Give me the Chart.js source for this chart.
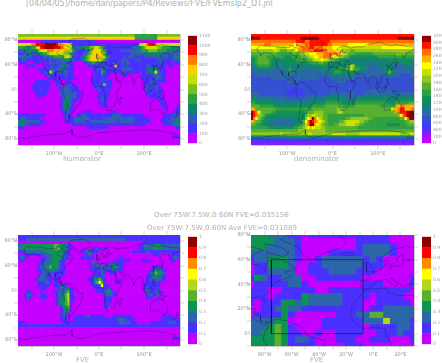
<!DOCTYPE html>
<html>
<head>
<meta charset="utf-8">
<script src="https://cdn.jsdelivr.net/npm/chart.js@4/dist/chart.umd.min.js"></script>
<style>
html, body { margin: 0; padding: 0; background: #fff; overflow: hidden; }
canvas { position: absolute; }
.t { position: absolute; white-space: nowrap; color: #b0b0b0; font-family: "DejaVu Sans", sans-serif; line-height: 10px; }
</style>
</head>
<body>
<canvas id="c1" width="184" height="133" style="left:0;top:30px"></canvas>
<canvas id="b1" width="27" height="117" style="left:188px;top:31px"></canvas>
<canvas id="c2" width="185" height="133" style="left:233px;top:30px"></canvas>
<canvas id="b2" width="27" height="117" style="left:422px;top:31px"></canvas>
<canvas id="c3" width="184" height="132" style="left:0;top:231px"></canvas>
<canvas id="b3" width="27" height="117" style="left:188px;top:232px"></canvas>
<canvas id="c4" width="185" height="132" style="left:233px;top:231px"></canvas>
<canvas id="b4" width="27" height="117" style="left:422px;top:232px"></canvas>
<div class="t" style="left:26px;top:-1px;font-size:8px;letter-spacing:-0.05px">[04/04/05]/home/dan/papers/P4/Reviews/FVE/FVEmslp2_DT.jnl</div>
<div class="t" style="left:154px;top:210px;font-size:7px;letter-spacing:0.06px">Over 75W:7.5W,0:60N FVE=0.035156</div>
<div class="t" style="left:147px;top:223px;font-size:7px;letter-spacing:0.06px">Over 75W:7.5W,0:60N Ave FVE=0.031089</div>
<div class="t" style="left:63px;top:154px;font-size:7px">Numerator</div>
<div class="t" style="left:294px;top:154px;font-size:7px">denominator</div>
<div class="t" style="left:76px;top:355px;font-size:7px">FVE</div>
<div class="t" style="left:310px;top:355px;font-size:7px">FVE</div>
<script>
// one char per 5 degree cell, colour level in hex, rows from 90N down, 6 cells per group
const numeratorRows = [
'555555 555555 555555 555555 555555 555555 555555 555555 555544 444444 445555 555555',
'666677 777777 777777 777777 777777 777777 777777 777777 777744 444444 447777 777777',
'000000 000011 111111 111111 111111 111110 000000 000000 000000 000000 000000 000000',
'766677 889999 aaaaa9 887766 211111 111111 111111 111111 111111 667899 987666 666666',
'444433 446799 aaaa99 987766 322233 445566 542111 111111 111222 345666 665544 443333',
'222333 333567 788877 777766 432111 225677 654211 111122 222233 344455 554444 333322',
'111223 222334 456666 666554 311112 245677 765311 111111 112222 222333 333322 222222',
'233222 111112 223344 445665 311123 456777 776421 111112 122211 112222 222222 222233',
'112211 111112 112122 223332 211123 456776 654311 111122 211122 211111 112221 111222',
'011100 011110 112212 122211 100001 123443 211111 212121 221111 111111 112211 110111',
'000011 110000 111211 223321 100000 011111 112211 171121 211111 111221 211111 011000',
'000000 000111 112222 232111 100000 000112 223111 111122 222111 111223 332111 000000',
'000000 000011 226411 223311 100000 000011 143111 111112 111111 011223 472111 000000',
'000000 000000 122111 111211 100000 000011 121110 000011 100000 011112 222211 000000',
'000000 000000 011110 111111 110000 000111 111100 000000 000000 011111 122211 000000',
'000000 001111 110011 100111 000000 000111 121111 000000 000000 001112 211111 000000',
'000000 011111 111001 100112 110000 000111 115211 000000 000000 000112 111000 000000',
'000000 111111 110000 112221 111000 000012 111111 000000 000000 001212 121100 000000',
'000000 011111 110000 122222 111000 000001 211110 000000 000000 000211 112110 000001',
'000000 001111 100000 022222 221100 000000 111110 000000 000000 000111 111100 000000',
'000000 000110 000000 012322 221100 000001 121110 000000 000000 000011 111100 000000',
'000000 000000 000000 012332 111000 000000 121100 000000 000000 000000 001110 000000',
'000000 000000 000000 013332 110000 000000 111100 000000 000000 000000 000111 000000',
'000000 000000 000000 013332 100000 000000 011100 000000 000000 000000 000011 000001',
'000000 000000 000000 012321 100000 000000 000000 000000 000000 000000 000001 000011',
'000000 000000 000000 001221 000001 111000 000001 110000 000000 000000 000000 000111',
'111111 111111 000000 001211 001122 211111 111111 222211 111111 110000 000001 111222',
'122211 111100 000000 000211 122222 221111 112222 222222 222211 111110 000011 112222',
'333222 222211 000000 000111 122222 112222 222222 221222 222211 111110 000011 122233',
'333221 111110 000000 000000 111111 111111 111111 111111 111111 111000 000001 112233',
'111000 000000 000000 000000 000000 011111 111100 000000 000000 000000 000000 000011',
'000000 000000 000000 000000 000000 000000 000000 000000 000000 000000 000000 000000',
'000000 000000 000000 000000 000000 000000 000000 000000 000000 000000 000000 000000',
'000000 000000 000000 000000 000000 000000 000000 000000 000000 000000 000000 000111',
'000000 000000 000000 000000 000000 000000 000000 000000 000000 000000 000000 000000',
'000000 000000 000000 000000 000000 000000 000000 000000 000000 000000 000000 000000',
];
const denominatorRows = [
'eeeeee eeeeee eeeeee eeeeee eeeeee eeeeee eeeeee eeeeee eeeeee eeeeee eeeeee eeeeee',
'ffffee eeeeee eeeeee eeeeff ffffff eeeeee eeeeee eeeeee eeeeee eeeeee eeeeef ffffff',
'dddddd dddddd dddddd ddeeee ddeeee eeeeed dddddd dddddd dddddd dddddd dddddd dddddd',
'cccccc dddccc cccccc cbcccc ddeeee eeeedd cccccc cbbbbb bbbbcc cccccc cccccc cccccc',
'bbbbbb bbbbba aaaabb bbbcdd ddeedd ddcccc bbbbaa aaaaaa aaaaaa aaaabb bbbbbb bbbbbb',
'999999 9999aa 988899 9abccd ddddee eeddcc cbaa99 998899 999999 999999 999999 999999',
'888888 888888 777777 888899 aabbbc ccdddd ddccba 988877 777777 888888 888899 998888',
'777888 877777 777666 777788 99aabb ccdddc bba998 876666 666666 667777 777777 777777',
'667888 887666 566666 667777 7889aa abaa99 877665 555555 555555 555555 666666 666666',
'667888 887655 555566 666666 667777 887766 655566 666555 555555 555555 555555 566666',
'556777 776555 555555 555555 555555 666655 556666 77a966 555544 445555 554444 445555',
'445555 555544 445567 555555 445555 555555 667766 88a877 665544 444455 666544 444444',
'444444 444444 444556 554444 444444 445555 677766 666655 444444 444445 785444 444444',
'334444 444444 444444 444444 444444 444444 555555 555544 444444 444444 555444 333344',
'333333 333344 444444 444444 444444 333334 444444 444433 333333 333333 333333 333333',
'333333 333333 333344 444333 333333 333333 344444 333333 333333 333333 333333 333333',
'333333 333333 333333 333333 333333 333333 333333 333333 333333 333333 333333 333333',
'333333 333333 333333 323333 333333 333333 333333 333333 333333 333333 333333 333333',
'333333 333333 333322 222223 333333 333333 333333 333333 333344 444444 443333 333333',
'444433 333333 333322 232223 333333 333334 444444 444433 334444 444444 444444 444444',
'554444 444444 444433 333333 444444 444455 555555 444444 555555 555555 555555 555555',
'665555 555544 444444 444444 445555 555666 666655 555566 666666 666666 555566 666666',
'776666 666655 555555 555555 555666 666777 777766 666677 777777 777777 666677 777788',
'888877 777766 666666 666666 666777 777888 888877 777788 888888 888777 7777cc ddcccc',
'cc8888 888887 777777 777777 777888 888888 889988 888888 888888 888888 88bccd eecccd',
'fedb98 888776 666666 666666 788899 998888 889a98 888888 888888 888888 8889cd eeefff',
'fed998 766666 666666 666666 899aa9 998877 777777 777777 778888 888888 888889 bdefff',
'fdb987 665555 555555 555566 9bcfdb a98877 777777 889999 999988 777777 777777 88bdff',
'c98876 655554 444444 555578 bdfedc ba9877 777889 aaaaaa 998877 777777 777777 778899',
'887766 554444 444444 455678 adffcb a98877 788999 aaaa99 887777 777777 666666 777888',
'777777 776666 666666 677889 abcbaa a99888 888888 888887 777777 777777 777777 777777',
'888888 888888 888888 888999 999999 999888 888888 888888 888888 888888 888888 888888',
'999999 999999 9a9999 999999 9aa999 999999 aaaaaa 999999 aaaaaa aaaaaa aaaaaa 999aaa',
'555555 555555 555566 666666 666655 555555 555555 666655 555555 555555 555555 555555',
'222222 222222 222222 222222 222222 222222 222222 222222 222222 222222 222222 222222',
'111111 111111 111111 111111 111111 111111 111111 111111 111111 111111 111111 111111',
];
const fveRows = [
'111111 111111 111111 111111 111111 111111 111111 111111 111111 111111 111111 111111',
'111122 222222 222222 222222 222222 222222 222222 222222 111111 111111 111111 111111',
'000000 000000 000000 000000 000000 000000 000000 000000 000000 001111 111111 111111',
'223333 333333 333344 333211 000000 000000 000000 000000 000000 112222 333322 222222',
'333333 333333 333344 433211 000000 000112 111100 000000 000000 112222 333322 222222',
'111222 222222 333333 332210 000011 222111 000000 000000 000111 111211 111111 111111',
'000111 111112 222333 332110 000000 122100 000000 000000 000000 000000 111000 001111',
'122100 000001 122333 332110 000011 111100 000000 000110 000000 000000 000000 001221',
'011000 000011 222333 211000 000000 010000 000000 011111 110000 011110 000000 001100',
'000000 000112 223333 211000 000000 001222 010012 221110 000000 000000 000000 000000',
'000000 000122 334333 211000 000000 000122 222122 332110 000000 000000 111100 000000',
'000000 000112 223322 111000 000000 001111 122111 221110 000000 000001 233311 000000',
'000000 000012 221211 111000 000000 000011 121001 110000 000000 000012 343322 000000',
'000000 000122 111011 110000 000000 000111 112000 000000 000000 000112 232211 000000',
'000000 001222 211011 000000 000000 011133 421000 000100 000000 000112 222211 000000',
'000000 000111 221011 100000 000000 001134 641000 011000 000000 000111 111100 000000',
'000000 000111 110011 122100 000000 000111 261110 000000 000000 001111 111000 000000',
'000000 000011 100000 122221 100000 000011 111121 000000 000000 001211 111000 000000',
'000011 000010 000011 222341 100000 000001 112232 100000 000000 000221 122100 000000',
'000122 100011 100001 223451 100000 000000 001222 110000 000000 000122 112100 000000',
'000121 000011 100001 223451 110000 000000 001111 000000 000000 000111 000000 000000',
'000000 000000 000001 233451 100000 000000 001111 000000 000000 000000 001000 000000',
'000000 000000 000001 233451 000000 000000 001110 000000 000000 000000 000000 000000',
'000000 000000 000000 013341 000000 000000 001120 000000 000000 000000 000000 000000',
'000000 000000 000000 012331 000000 000000 000000 000000 000000 000000 000000 000000',
'000000 000000 000000 012210 000000 000000 000000 000000 000000 000000 000000 000000',
'000000 000000 000000 012100 011111 221111 111000 111111 111000 000000 000011 111000',
'000000 000000 000000 011100 011111 111111 111111 112222 111100 000000 000011 111111',
'111000 000000 000000 001111 111111 111111 111111 111222 221110 000001 111111 122211',
'111111 111111 111111 111111 111111 111111 111111 111111 111111 111111 111111 111111',
'000000 000000 000000 000000 000000 000000 000000 000000 000000 000000 000000 000000',
'000000 000000 000000 000000 000000 000000 000000 000000 000000 000000 000000 000000',
'000000 000000 000000 000000 000000 000000 000000 000000 000000 000000 000000 000000',
'000000 000000 000000 000000 000000 000000 000000 000000 000000 000000 000000 000111',
'000000 000000 000000 000000 000000 000000 000000 000000 000000 000000 000000 000000',
'000000 000000 000000 000000 000000 000000 000000 000000 000000 000000 000000 000000',
];
// atlantic close up, cells centred on multiples of 5 degrees, 80N down to 10S, 90W to 30E
const atlanticRows = [
'3332221101111111111110000',
'3333222100000000111110000',
'3332222100000000122221000',
'2222222100001111122221000',
'1223332100122222212100000',
'0113332001122222211100000',
'0112222001112222111000000',
'1321122200111111100000001',
'0111112210000000011100001',
'1110011111001111111111110',
'1110111132222211110111100',
'1011133232222211100111110',
'0011232211111111101122222',
'0111131000000111224422222',
'2222330000011111122252221',
'2223431000011111101111221',
'2233431100100111100111211',
'3333431221000111001110001',
'3333431111000011100000000',
];

const globalLons = [-177.5, -172.5, -167.5, -162.5, -157.5, -152.5, -147.5, -142.5, -137.5, -132.5, -127.5, -122.5,
  -117.5, -112.5, -107.5, -102.5, -97.5, -92.5, -87.5, -82.5, -77.5, -72.5, -67.5, -62.5,
  -57.5, -52.5, -47.5, -42.5, -37.5, -32.5, -27.5, -22.5, -17.5, -12.5, -7.5, -2.5,
  2.5, 7.5, 12.5, 17.5, 22.5, 27.5, 32.5, 37.5, 42.5, 47.5, 52.5, 57.5,
  62.5, 67.5, 72.5, 77.5, 82.5, 87.5, 92.5, 97.5, 102.5, 107.5, 112.5, 117.5,
  122.5, 127.5, 132.5, 137.5, 142.5, 147.5, 152.5, 157.5, 162.5, 167.5, 172.5, 177.5];
const globalLats = [87.5, 82.5, 77.5, 72.5, 67.5, 62.5, 57.5, 52.5, 47.5, 42.5, 37.5, 32.5,
  27.5, 22.5, 17.5, 12.5, 7.5, 2.5, -2.5, -7.5, -12.5, -17.5, -22.5, -27.5,
  -32.5, -37.5, -42.5, -47.5, -52.5, -57.5, -62.5, -67.5, -72.5, -77.5, -82.5, -87.5];
const atlanticLons = [-90, -85, -80, -75, -70, -65, -60, -55, -50, -45, -40, -35, -30, -25, -20, -15, -10, -5, 0, 5, 10, 15, 20, 25, 30];
const atlanticLats = [80, 75, 70, 65, 60, 55, 50, 45, 40, 35, 30, 25, 20, 15, 10, 5, 0, -5, -10];

const numeratorLevels = [0, 100, 200, 300, 400, 500, 600, 700, 800, 900, 1000, 1100];
const denominatorLevels = [0, 200, 400, 600, 800, 1000, 1200, 1400, 1600, 1800, 2000, 2200, 2400, 2600, 2800, 3000, 3200];
const fveLevels = [0, 0.1, 0.2, 0.3, 0.4, 0.5, 0.6, 0.7, 0.8, 0.9, 1];

const numeratorColors = ['#c400ff', '#4a30ff', '#2d5fb4', '#0f8468', '#2ea040', '#78c020', '#c8e000', '#ffd000', '#ff7a00', '#ff0000', '#900000'];
const denominatorColors = ['#c400ff', '#7a20ff', '#4038f8', '#3450d0', '#2a68a8', '#158078', '#109058', '#30a040', '#58b030', '#90c820', '#c8e000', '#ffff00', '#ffb000', '#ff7000', '#ff1000', '#900000'];
const fveColors = ['#c400ff', '#4a30ff', '#2a66a8', '#0c9450', '#58b030', '#b4d818', '#ffff00', '#ff8c00', '#ff0000', '#900000'];

const boxLine = [[-75, 0], [-7.5, 0], [-7.5, 60], [-75, 60], [-75, 0]];
const northAmerica = [[-165,65],[-168,66],[-162,70],[-156,71],[-140,70],[-128,70],[-115,68],[-95,68],[-94,72],[-85,69],[-81,68],[-88,64],[-94,60],[-92,57],[-82,55],[-80,51],[-79,55],[-77,60],[-78,62],[-70,61],[-65,59],[-60,55],[-56,52],[-65,50],[-60,46],[-66,44],[-70,43],[-74,40],[-76,35],[-81,31],[-80,26],[-82,28],[-84,30],[-90,29],[-97,28],[-97,22],[-95,18],[-91,19],[-87,21],[-88,16],[-83,15],[-83,10],[-78,9],[-80,7],[-85,10],[-91,14],[-96,16],[-105,20],[-109,25],[-113,31],[-110,23],[-115,30],[-120,34],[-124,40],[-124,48],[-130,54],[-135,58],[-145,60],[-152,59],[-160,55],[-158,58],[-165,61],[-165,65]];
const southAmerica = [[-78,9],[-72,12],[-62,10],[-52,5],[-50,0],[-44,-3],[-35,-6],[-39,-15],[-41,-22],[-48,-26],[-53,-33],[-58,-38],[-65,-41],[-66,-47],[-69,-52],[-68,-55],[-74,-52],[-74,-42],[-71,-30],[-70,-18],[-76,-14],[-81,-5],[-80,1],[-77,6],[-78,9]];
const africa = [[-6,36],[10,37],[11,33],[20,31],[32,31],[35,28],[39,17],[43,12],[51,12],[47,3],[40,-3],[39,-10],[40,-16],[35,-24],[32,-29],[26,-34],[18,-34],[15,-26],[12,-17],[13,-8],[9,0],[9,4],[0,5],[-8,4],[-15,11],[-17,15],[-16,22],[-10,30],[-6,36]];
const eurasia = [[-9,37],[-9,43],[-1,44],[-4,48],[3,51],[8,54],[9,57],[12,54],[20,55],[24,59],[30,60],[22,60],[22,65],[17,61],[18,59],[13,55],[11,59],[5,59],[6,62],[14,68],[25,71],[40,67],[44,68],[55,69],[68,69],[73,72],[85,74],[105,77],[115,74],[130,71],[140,73],[160,70],[178,69],[180,68],[178,63],[165,60],[162,55],[156,51],[156,58],[142,59],[135,54],[141,50],[132,43],[128,38],[126,35],[125,39],[118,39],[122,37],[120,33],[122,30],[118,24],[110,21],[106,19],[109,12],[105,9],[100,13],[103,2],[98,9],[97,16],[92,22],[87,21],[80,15],[78,8],[73,18],[72,21],[67,25],[57,26],[51,28],[48,30],[52,24],[56,25],[59,22],[52,16],[43,13],[39,21],[35,28],[35,33],[36,36],[27,37],[27,40],[41,41],[37,45],[31,46],[28,42],[26,40],[23,38],[20,40],[13,45],[18,40],[16,38],[10,44],[3,43],[0,39],[-5,36],[-9,37]];
const greenland = [[-45,60],[-52,64],[-55,70],[-68,76],[-60,82],[-30,83],[-20,76],[-22,70],[-35,66],[-45,60]];
const australia = [[114,-22],[122,-18],[130,-12],[136,-12],[140,-17],[143,-11],[146,-19],[153,-27],[150,-37],[143,-39],[138,-35],[130,-32],[124,-33],[115,-34],[114,-22]];
const antarctica = [[-180,-78],[-160,-80],[-150,-77],[-120,-74],[-100,-73],[-75,-72],[-60,-65],[-60,-73],[-45,-78],[-20,-75],[0,-70],[30,-69],[60,-67],[90,-66],[120,-66],[150,-69],[170,-72],[165,-78],[180,-78]];
const britain = [[-5,50],[1,51],[-2,56],[-5,58],[-5,50]];
const japan = [[130,32],[136,34],[141,36],[141,41],[145,44],[141,45],[139,38],[131,34],[130,32]];
const madagascar = [[49,-12],[50,-16],[47,-25],[44,-23],[44,-17],[49,-12]];
const sumatra = [[95,5],[104,-3],[106,-6],[100,-2],[95,5]];
const borneo = [[109,1],[117,7],[118,1],[114,-4],[110,-2],[109,1]];
const newGuinea = [[131,-1],[141,-3],[148,-8],[150,-10],[141,-9],[138,-8],[131,-1]];
const iceland = [[-24,65],[-15,66],[-14,64],[-22,63],[-24,65]];
const baffin = [[-80,73],[-68,70],[-62,66],[-66,62],[-78,66],[-80,73]];
const newZealand = [[173,-35],[178,-38],[175,-41],[172,-44],[167,-46],[172,-41],[173,-35]];
const philippines = [[120,18],[122,17],[125,8],[122,8],[120,14],[120,18]];
const coasts = [northAmerica, southAmerica, africa, eurasia, greenland, australia, antarctica, britain, japan, madagascar, sumatra, borneo, newGuinea, iceland, baffin, newZealand, philippines];

const GREY = '#969696';
const TICK = '#b8b8b8';
const tickFont = { family: "'DejaVu Sans', sans-serif", size: 5 };

function lonLabel(v) {
    return v === 0 ? '0°E' : Math.abs(v) + (v < 0 ? '°W' : '°E');
}
function latLabel(v) {
    return v === 0 ? '0°' : Math.abs(v) + (v < 0 ? '°S' : '°N');
}
function fixTicks(list) {
    return (scale) => { scale.ticks = list.map((v) => ({ value: v })); };
}
function axis(position, min, max, list, extra) {
    return Object.assign({
        type: 'linear',
        position: position,
        min: min,
        max: max,
        offset: false,
        afterBuildTicks: fixTicks(list),
        // lineWidth 0 or the bars that start at 0 get a half pixel gap
        grid: { drawOnChartArea: false, offset: false, lineWidth: 0, tickLength: 4, tickColor: TICK, tickWidth: 0.6 },
        border: { display: true, color: GREY, width: 0.5 },
        ticks: { display: false, autoSkip: false, maxRotation: 0, font: tickFont },
    }, extra);
}

function drawMap(id, o) {
    const cells = [];
    const colors = [];
    o.rows.forEach((row, r) => {
        const chars = row.replace(/ /g, '');
        o.lons.forEach((lon, c) => {
            cells.push({ x: lon, y: [o.lats[r] - o.dLat / 2, o.lats[r] + o.dLat / 2] });
            colors.push(o.palette[parseInt(chars[c], 16)]);
        });
    });
    const lineSet = (pts, width, color) => ({
        type: 'line',
        data: pts.map((p) => ({ x: p[0], y: p[1] })),
        borderColor: color,
        borderWidth: width,
        pointRadius: 0,
        tension: 0,
        order: 0,
    });
    const datasets = [{ type: 'bar', data: cells, backgroundColor: colors, borderWidth: 0, order: 1 }];
    coasts.forEach((c) => datasets.push(lineSet(c, 0.5, 'rgba(25,10,70,0.6)')));
    if (o.box) {
        datasets.push(lineSet(o.box, 0.7, 'rgba(15,15,50,0.85)'));
    }
    new Chart(document.getElementById(id), {
        data: { datasets: datasets },
        options: {
            responsive: false,
            animation: false,
            events: [],
            layout: { padding: 0, autoPadding: false },
            barPercentage: 1,
            categoryPercentage: 1,
            plugins: { legend: { display: false }, tooltip: { enabled: false } },
            scales: {
                x: axis('bottom', o.xMin, o.xMax, o.xTicks, {
                    afterFit: (s) => { s.height = o.bottom; },
                    ticks: {
                        autoSkip: false, maxRotation: 0, minRotation: 0, font: tickFont, color: GREY, padding: 1.5,
                        callback: (v) => (o.xLabels.includes(v) ? lonLabel(v) : ''),
                    },
                }),
                y: axis('left', o.yMin, o.yMax, o.yTicks, {
                    afterFit: (s) => { s.width = 18; },
                    ticks: {
                        autoSkip: false, font: tickFont, color: GREY, padding: -3,
                        callback: (v) => (o.yLabels.includes(v) ? latLabel(v) : ''),
                    },
                }),
                xTop: axis('top', o.xMin, o.xMax, o.xTicks, { afterFit: (s) => { s.height = 4; } }),
                yRight: axis('right', o.yMin, o.yMax, o.yTicks, { afterFit: (s) => { s.width = 4; } }),
            },
        },
    });
}

function drawBar(id, levels, palette) {
    new Chart(document.getElementById(id), {
        type: 'bar',
        data: {
            labels: [''],
            datasets: palette.map((c, i) => ({ data: [[levels[i], levels[i + 1]]], backgroundColor: c, borderWidth: 0 })),
        },
        options: {
            responsive: false,
            animation: false,
            events: [],
            layout: { padding: { top: 3, bottom: 3 }, autoPadding: false },
            barPercentage: 1,
            categoryPercentage: 1,
            datasets: { bar: { grouped: false } },
            plugins: { legend: { display: false }, tooltip: { enabled: false } },
            scales: {
                x: { display: false },
                y: {
                    position: 'right',
                    min: levels[0],
                    max: levels[levels.length - 1],
                    afterBuildTicks: fixTicks(levels),
                    afterFit: (s) => { s.width = 18; },
                    grid: { display: false, drawTicks: false, tickLength: 0 },
                    border: { display: false },
                    ticks: { autoSkip: false, font: { family: "'DejaVu Sans', sans-serif", size: 4.5 }, color: '#a0a0a0', padding: 2, callback: (v) => String(v) },
                },
            },
        },
    });
}

const globe = {
    lons: globalLons, lats: globalLats, dLat: 5,
    xMin: -180, xMax: 180, yMin: -90, yMax: 90,
    xTicks: [-150, -100, -50, 0, 50, 100, 150], xLabels: [-100, 0, 100],
    yTicks: [-80, -60, -40, -20, 0, 20, 40, 60, 80], yLabels: [-80, -40, 0, 40, 80],
};
drawMap('c1', Object.assign({}, globe, { rows: numeratorRows, palette: numeratorColors, bottom: 18 }));
drawMap('c2', Object.assign({}, globe, { rows: denominatorRows, palette: denominatorColors, bottom: 18 }));
drawMap('c3', Object.assign({}, globe, { rows: fveRows, palette: fveColors, bottom: 17 }));
drawMap('c4', {
    lons: atlanticLons, lats: atlanticLats, dLat: 5,
    rows: atlanticRows, palette: fveColors, bottom: 17, box: boxLine,
    xMin: -90, xMax: 30, yMin: -10, yMax: 80,
    xTicks: [-80, -70, -60, -50, -40, -30, -20, -10, 0, 10, 20], xLabels: [-80, -60, -40, -20, 0, 20],
    yTicks: [-10, 0, 10, 20, 30, 40, 50, 60, 70, 80], yLabels: [0, 20, 40, 60, 80],
});
drawBar('b1', numeratorLevels, numeratorColors);
drawBar('b2', denominatorLevels, denominatorColors);
drawBar('b3', fveLevels, fveColors);
drawBar('b4', fveLevels, fveColors);
</script>
</body>
</html>
